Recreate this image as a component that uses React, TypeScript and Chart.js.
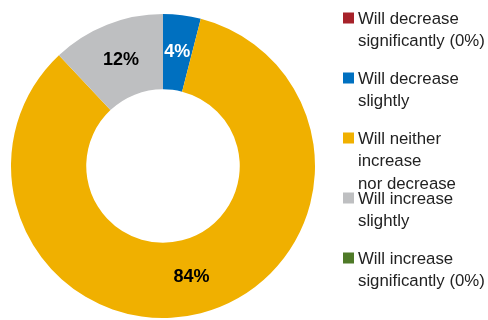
import React, { useEffect, useRef } from "react";
import { Chart, registerables } from "chart.js";

Chart.register(...registerables);

const categories: string[][] = [
  ["Will decrease", "significantly (0%)"],
  ["Will decrease", "slightly"],
  ["Will neither", "increase", "nor decrease"],
  ["Will increase", "slightly"],
  ["Will increase", "significantly (0%)"],
];
const values = [0, 4, 84, 12, 0];
const valueLabels = ["", "4%", "84%", "12%", ""];
const colors = ["#A6222A", "#0070C0", "#F0B000", "#BEBFC1", "#4F7A28"];
const labelColors = ["#000000", "#FFFFFF", "#000000", "#000000", "#000000"];

const FONT = '"Liberation Sans", Arial, sans-serif';

const sideLegend = {
  id: "sideLegend",
  afterDraw(chart: any) {
    const ctx = chart.ctx;
    ctx.save();
    ctx.font = `16.8px ${FONT}`;
    ctx.textAlign = "left";
    ctx.textBaseline = "alphabetic";
    categories.forEach((lines, i) => {
      const base = 23.5 + i * 60;
      ctx.fillStyle = colors[i];
      ctx.fillRect(343, base - 11, 11, 11);
      ctx.fillStyle = "#222222";
      lines.forEach((t, j) => {
        ctx.fillText(t, 358, base + j * 22.5);
      });
    });
    ctx.restore();
  },
};

const sliceLabels = {
  id: "sliceLabels",
  afterDatasetsDraw(chart: any) {
    const ctx = chart.ctx;
    const meta = chart.getDatasetMeta(0);
    ctx.save();
    ctx.font = `bold 18px ${FONT}`;
    ctx.textAlign = "center";
    ctx.textBaseline = "middle";
    meta.data.forEach((el: any, i: number) => {
      if (!values[i]) return;
      const p = el.tooltipPosition();
      ctx.fillStyle = labelColors[i];
      ctx.fillText(valueLabels[i], p.x, p.y);
    });
    ctx.restore();
  },
};

export default function App() {
  const ref = useRef<HTMLCanvasElement>(null);
  useEffect(() => {
    document.body.style.margin = "0";
    const chart = new Chart(ref.current!, {
      type: "doughnut",
      data: {
        labels: categories.map((c) => c.join(" ")),
        datasets: [
          {
            data: values,
            backgroundColor: colors,
            borderWidth: 0,
          },
        ],
      },
      options: {
        responsive: false,
        animation: false,
        cutout: "50.5%",
        layout: { padding: { left: 11, right: 173, top: 14, bottom: 2 } },
        plugins: {
          legend: { display: false },
          tooltip: { enabled: false },
        },
      },
      plugins: [sliceLabels, sideLegend],
    });
    return () => chart.destroy();
  }, []);
  return (
    <div style={{ position: "absolute", left: 0, top: 0, width: 488, height: 320, background: "#fff" }}>
      <canvas ref={ref} width={488} height={320} />
    </div>
  );
}
